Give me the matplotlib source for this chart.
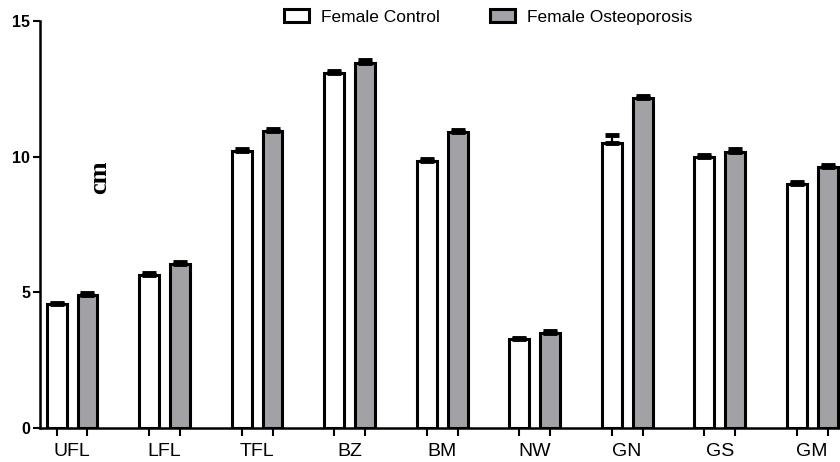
import numpy as np
import matplotlib
matplotlib.use("Agg")
import matplotlib.pyplot as plt

categories = ["UFL", "LFL", "TFL", "BZ", "BM", "NW", "GN", "GS", "GM"]
control = [4.57, 5.65, 10.22, 13.08, 9.83, 3.28, 10.52, 9.97, 9.00]
osteo = [4.90, 6.03, 10.93, 13.47, 10.90, 3.50, 12.18, 10.18, 9.62]
control_err = [0.04, 0.07, 0.06, 0.07, 0.07, 0.05, 0.27, 0.08, 0.07]
osteo_err = [0.06, 0.08, 0.09, 0.10, 0.08, 0.06, 0.06, 0.10, 0.08]

plt.rcParams['font.family'] = ['Liberation Sans', 'DejaVu Sans']

fig = plt.figure(figsize=(8.4, 4.62), dpi=100)
ax = fig.add_axes([40 / 840, 34 / 462, 1 - 40 / 840, (428 - 21) / 462])

x = np.arange(len(categories))
off = 0.167
w = 0.215
err_kw = dict(ecolor='black', elinewidth=1.6, capsize=5, capthick=3.5)

ax.bar(x - off, control, w, color='white', edgecolor='black', linewidth=2.2,
       yerr=[np.zeros(len(x)), control_err], error_kw=err_kw, label='Female Control', zorder=2)
ax.bar(x + off, osteo, w, color='#a2a2a6', edgecolor='black', linewidth=2.2,
       yerr=[np.zeros(len(x)), osteo_err], error_kw=err_kw, label='Female Osteoporosis', zorder=2)

ax.set_ylim(0, 15)
ax.set_xlim(-0.346, 8.30)
ax.set_yticks([0, 5, 10, 15])
ax.set_yticklabels(['0', '5', '10', '15'], fontsize=11.5, fontweight='bold')

ax.set_xticks(np.concatenate([x - off, x + off]))
ax.set_xticklabels([])
ax.set_xticks(x, minor=True)
ax.set_xticklabels(categories, minor=True, fontsize=14)
ax.tick_params(axis='x', which='minor', length=0, pad=11)
ax.tick_params(axis='x', which='major', length=6, width=1.5, direction='out')
ax.tick_params(axis='y', length=5, width=1.5, direction='out', pad=2)

for s in ['top', 'right']:
    ax.spines[s].set_visible(False)
ax.spines['left'].set_linewidth(1.8)
ax.spines['bottom'].set_linewidth(1.8)

ax.text(0.3, 9.24, 'cm', rotation=90, fontsize=19, fontweight='bold',
        family=['Liberation Serif', 'DejaVu Serif'], ha='center', va='center')

leg = fig.legend(loc='center', bbox_to_anchor=(0.581, 0.963), ncol=2, frameon=False,
                 fontsize=12.5, handlelength=1.45, handleheight=0.75, columnspacing=2.85,
                 handletextpad=0.7)

fig.savefig('out.png', dpi=100)
